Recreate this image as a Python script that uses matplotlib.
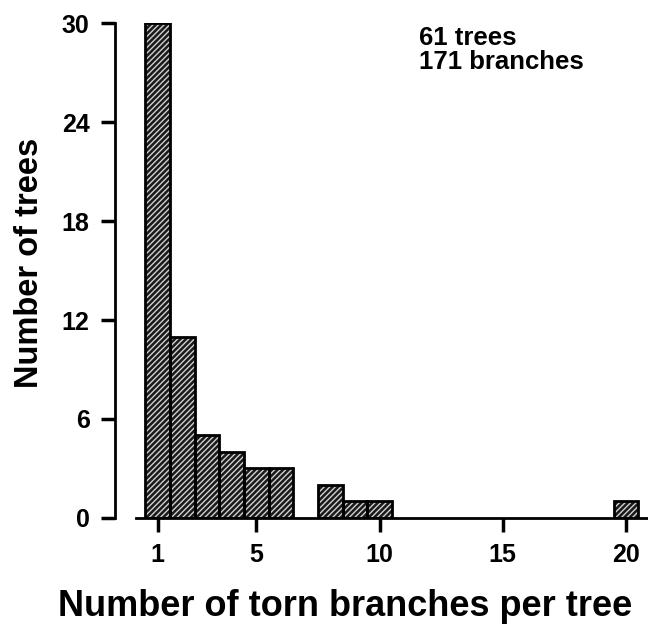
import matplotlib
matplotlib.use("Agg")
import matplotlib.pyplot as plt

# torn branches per tree -> number of trees
branches = [1, 2, 3, 4, 5, 6, 8, 9, 10, 20]
trees = [30, 11, 5, 4, 3, 3, 2, 1, 1, 1]
xticks = [1, 5, 10, 15, 20]
yticks = [0, 6, 12, 18, 24, 30]

plt.rcParams['font.family'] = ['Liberation Sans', 'DejaVu Sans']
plt.rcParams['font.weight'] = 'bold'

fig = plt.figure(figsize=(6.48, 6.27), dpi=100)
ax = fig.add_axes([0.177, 0.174, 0.823, 0.789])

# dark fill with light diagonal hatch, then black outline on top
ax.bar(branches, trees, width=1.0, color='#1a1a1a', edgecolor='#d0d0d0',
       hatch='//////', linewidth=0, zorder=2)
ax.bar(branches, trees, width=1.0, facecolor='none', edgecolor='black',
       linewidth=2, zorder=3)

ax.set_xlim(-0.75, 20.9)
ax.set_ylim(0, 30)
ax.set_xticks(xticks)
ax.set_yticks(yticks)

for s in ['top', 'right']:
    ax.spines[s].set_visible(False)
ax.spines['left'].set_linewidth(2)
ax.spines['bottom'].set_linewidth(2)
ax.spines['bottom'].set_bounds(0.1, 20.9)

ax.tick_params(axis='both', width=2.5, length=10, direction='out',
               labelsize=18, pad=8)

ax.set_xlabel('Number of torn branches per tree', fontsize=26,
              fontweight='bold')
ax.xaxis.set_label_coords(0.433, -0.143)
ax.set_ylabel('Number of trees', fontsize=23.5, fontweight='bold')
ax.yaxis.set_label_coords(-0.13, 0.515)

ax.text(11.6, 29.8, '61 trees\n171 branches', fontsize=18.5, fontweight='bold',
        va='top', ha='left', linespacing=1.0)

fig.savefig('out.png', dpi=100)
